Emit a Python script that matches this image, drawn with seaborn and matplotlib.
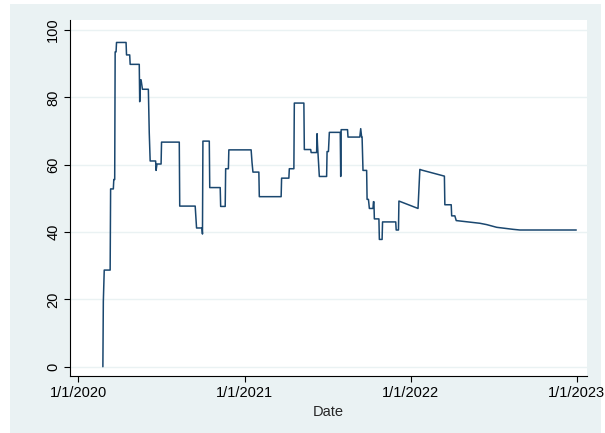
import matplotlib
matplotlib.use("Agg")
import matplotlib.pyplot as plt
import matplotlib.dates as mdates
from matplotlib.patches import Rectangle
import numpy as np
import pandas as pd
import seaborn as sns

# Stringency index vertices (date, value)
dates = [
    "2020-02-24", "2020-02-25", "2020-02-27", "2020-03-11", "2020-03-12",
    "2020-03-18", "2020-03-19", "2020-03-21", "2020-03-22", "2020-03-24",
    "2020-03-25", "2020-04-15", "2020-04-16", "2020-04-23", "2020-04-24",
    "2020-05-14", "2020-05-15", "2020-05-16", "2020-05-18", "2020-05-21",
    "2020-06-03", "2020-06-05", "2020-06-07", "2020-06-19", "2020-06-20",
    "2020-06-22", "2020-07-01", "2020-07-02", "2020-08-10", "2020-08-11",
    "2020-09-14", "2020-09-17", "2020-09-29", "2020-09-30", "2020-10-01",
    "2020-10-15", "2020-10-16", "2020-11-08", "2020-11-09", "2020-11-19",
    "2020-11-20", "2020-11-26", "2020-11-27", "2021-01-15", "2021-01-17",
    "2021-01-19", "2021-02-01", "2021-02-02", "2021-03-22", "2021-03-23",
    "2021-04-08", "2021-04-09", "2021-04-19", "2021-04-20", "2021-05-11",
    "2021-05-12", "2021-05-26", "2021-05-27", "2021-06-08", "2021-06-09",
    "2021-06-10", "2021-06-14", "2021-06-30", "2021-07-01", "2021-07-04",
    "2021-07-06", "2021-07-30", "2021-07-31", "2021-08-01", "2021-08-15",
    "2021-08-16", "2021-09-11", "2021-09-13", "2021-09-15", "2021-09-16",
    "2021-09-18", "2021-09-26", "2021-09-27", "2021-09-30", "2021-10-02",
    "2021-10-10", "2021-10-11", "2021-10-12", "2021-10-13", "2021-10-23",
    "2021-10-24", "2021-10-30", "2021-10-31", "2021-11-29", "2021-11-30",
    "2021-12-05", "2021-12-06", "2022-01-17", "2022-01-21", "2022-01-25",
    "2022-03-16", "2022-03-17", "2022-03-31", "2022-04-01", "2022-04-08",
    "2022-04-11", "2022-06-02", "2022-06-17", "2022-07-09", "2022-08-14",
    "2022-08-29", "2022-12-31",
]
values = [
    0.0, 19.4, 28.7, 28.7, 52.8,
    52.8, 55.6, 55.6, 93.5, 93.5,
    96.3, 96.3, 92.6, 92.6, 89.8,
    89.8, 78.7, 85.2, 85.2, 82.4,
    82.4, 69.4, 61.1, 61.1, 58.3,
    60.2, 60.2, 66.7, 66.7, 47.7,
    47.7, 41.2, 41.2, 39.4, 67.0,
    67.0, 53.2, 53.2, 47.6, 47.6,
    58.8, 58.8, 64.4, 64.4, 60.6,
    57.8, 57.8, 50.5, 50.5, 56.0,
    56.0, 58.8, 58.8, 78.3, 78.3,
    64.5, 64.5, 63.6, 63.6, 69.2,
    65.8, 56.5, 56.5, 63.9, 63.9,
    69.6, 69.6, 56.5, 70.4, 70.4,
    68.2, 68.2, 70.7, 68.2, 68.2,
    58.3, 58.3, 49.7, 49.7, 47.0,
    47.0, 49.0, 49.0, 43.9, 43.9,
    37.8, 37.8, 43.0, 43.0, 40.6,
    40.6, 49.2, 47.0, 58.6, 58.4,
    56.6, 48.1, 48.1, 44.8, 44.8,
    43.4, 42.6, 42.2, 41.4, 40.8,
    40.6, 40.6,
]

tick_dates = ["2020-01-01", "2021-01-01", "2022-01-01", "2023-01-01"]
tick_labels = ["1/1/2020", "1/1/2021", "1/1/2022", "1/1/2023"]
y_ticks = [0, 20, 40, 60, 80, 100]

df = pd.DataFrame({"Date": pd.to_datetime(dates), "value": values})

sns.set_style("white")
plt.rcParams["font.family"] = ["Liberation Sans", "DejaVu Sans"]

W, H = 605, 433
fig = plt.figure(figsize=(W / 100, H / 100), dpi=100, facecolor="white")
# light outer graph region behind the plot area
fig.patches.append(Rectangle((10 / W, 0), (601 - 10) / W, (433 - 4) / H,
                             transform=fig.transFigure, facecolor="#EAF2F3",
                             edgecolor="none", zorder=-10))

ax = fig.add_axes([70 / W, (H - 376) / H, (587 - 70) / W, (376 - 20) / H])
ax.set_zorder(1)
ax.set_facecolor("white")

sns.lineplot(data=df, x="Date", y="value", ax=ax, color="#1a476f",
             linewidth=1.1, estimator=None, sort=False)

ax.set_xlim(pd.Timestamp("2019-12-13 17:00"), pd.Timestamp("2023-01-23 14:00"))
ax.set_ylim(-2.76, 102.97)

ax.set_xticks(pd.to_datetime(tick_dates))
ax.set_xticklabels(tick_labels)
ax.set_yticks(y_ticks)
ax.set_yticklabels([str(v) for v in y_ticks], rotation=90, va="center")

ax.grid(axis="y", color="#EAF2F3", linewidth=1.0)
ax.grid(axis="x", visible=False)
ax.set_axisbelow(True)

for side in ("top", "right"):
    ax.spines[side].set_visible(False)
for side in ("left", "bottom"):
    ax.spines[side].set_color("#000000")
    ax.spines[side].set_linewidth(0.8)

ax.tick_params(axis="both", which="major", direction="out", length=4,
               width=0.8, color="#000000", labelsize=10.5, labelcolor="#000000",
               pad=3, left=True, bottom=True)

ax.set_xlabel("Date", fontsize=10.5, labelpad=4)
ax.set_ylabel("")

fig.savefig("out.png", dpi=100, facecolor=fig.get_facecolor())
